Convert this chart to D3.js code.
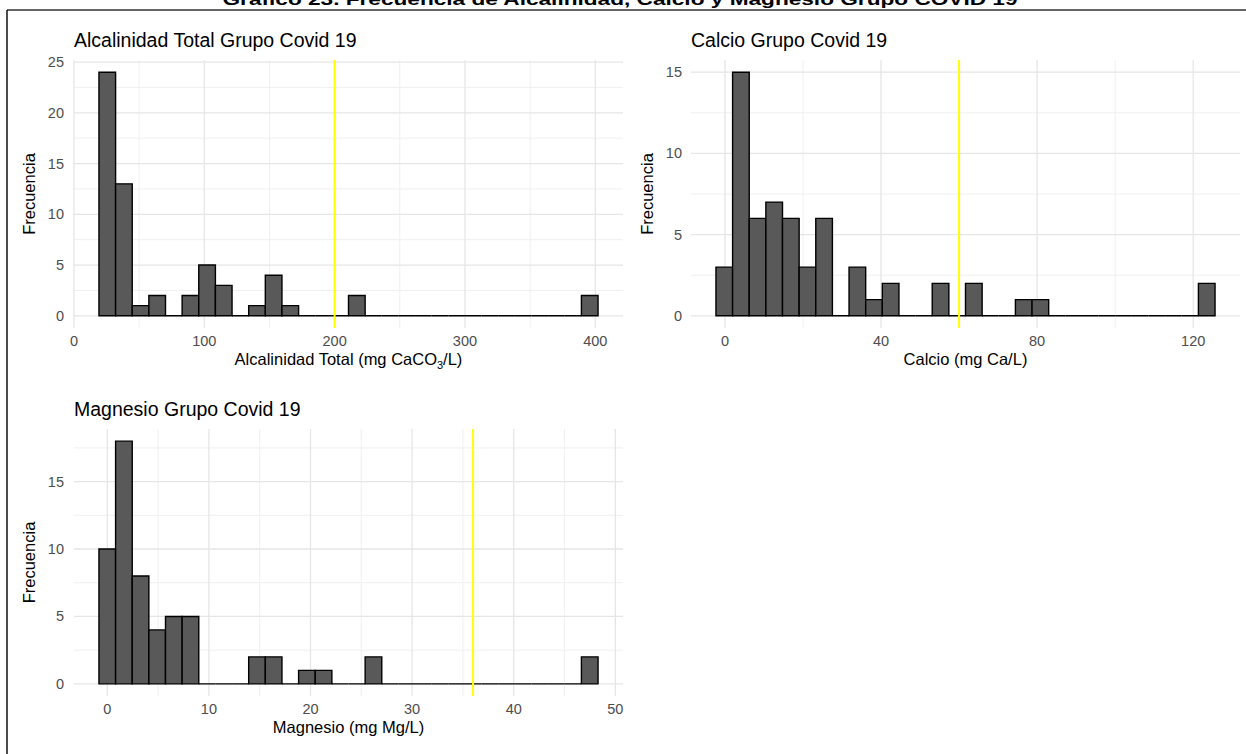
<!DOCTYPE html>
<html>
<head>
<meta charset="utf-8">
<script src="https://cdn.jsdelivr.net/npm/d3@7"></script>
<style>
  html, body { margin: 0; padding: 0; background: #fff; }
  svg { display: block; }
  text { font-family: "Liberation Sans", Arial, sans-serif; }
</style>
</head>
<body>
<svg id="chart" width="1246" height="754"></svg>
<script>
// ---------------- DATA ----------------
const mainTitle = "Gráfico 23. Frecuencia de Alcalinidad, Calcio y Magnesio Grupo COVID 19";

// Alcalinidad Total: 30 bins between these edges (mg CaCO3/L)
const alcRange = [19.2, 402.1];
const alcCounts = [24, 13, 1, 2, 0, 2, 5, 3, 0, 1, 4, 1, 0, 0, 0, 2, 0, 0, 0, 0, 0, 0, 0, 0, 0, 0, 0, 0, 0, 2];
const alcThreshold = 200;
const alcXTicks = [0, 100, 200, 300, 400];
const alcXMinor = [50, 150, 250, 350];
const alcYTicks = [0, 5, 10, 15, 20, 25];
const alcYMinor = [2.5, 7.5, 12.5, 17.5, 22.5];

// Calcio: 30 bins (mg Ca/L)
const caRange = [-2.3, 125.6];
const caCounts = [3, 15, 6, 7, 6, 3, 6, 0, 3, 1, 2, 0, 0, 2, 0, 2, 0, 0, 1, 1, 0, 0, 0, 0, 0, 0, 0, 0, 0, 2];
const caThreshold = 60;
const caXTicks = [0, 40, 80, 120];
const caXMinor = [20, 60, 100];
const caYTicks = [0, 5, 10, 15];
const caYMinor = [2.5, 7.5, 12.5];

// Magnesio: 30 bins (mg Mg/L)
const mgRange = [-0.82, 48.3];
const mgCounts = [10, 18, 8, 4, 5, 5, 0, 0, 0, 2, 2, 0, 1, 1, 0, 0, 2, 0, 0, 0, 0, 0, 0, 0, 0, 0, 0, 0, 0, 2];
const mgThreshold = 36;
const mgXTicks = [0, 10, 20, 30, 40, 50];
const mgXMinor = [5, 15, 25, 35, 45];
const mgYTicks = [0, 5, 10, 15];
const mgYMinor = [2.5, 7.5, 12.5, 17.5];

const panelTitles = ["Alcalinidad Total Grupo Covid 19", "Calcio Grupo Covid 19", "Magnesio Grupo Covid 19"];
const yTitle = "Frecuencia";

// ---------------- LAYOUT ----------------
const svg = d3.select("#chart");

// frame
svg.append("line").attr("x1", 7).attr("x2", 1246).attr("y1", 10).attr("y2", 10)
  .attr("stroke", "#333").attr("stroke-width", 1.5);
svg.append("line").attr("x1", 7).attr("x2", 7).attr("y1", 10).attr("y2", 754)
  .attr("stroke", "#111").attr("stroke-width", 1.5);

// main title (clipped by the top edge, as in the reference)
svg.append("text").attr("x", 620).attr("y", 5).attr("text-anchor", "middle")
  .attr("font-weight", "bold").attr("font-size", 17)
  .attr("textLength", 795).attr("lengthAdjust", "spacingAndGlyphs")
  .attr("fill", "#000").text(mainTitle);

function histogram(cfg) {
  const { left, right, top, bottom, range, counts, threshold, xTicks, xMinor, yTicks, yMinor, title, xTitle, yLabelGap, yTitleGap } = cfg;
  const n = counts.length;
  const bw = (range[1] - range[0]) / n;
  const span = range[1] - range[0];
  const x = d3.scaleLinear().domain([range[0] - 0.05 * span, range[1] + 0.05 * span]).range([left, right]);
  const maxC = d3.max(counts);
  const y = d3.scaleLinear().domain([-0.05 * maxC, 1.05 * maxC]).range([bottom, top]);
  const g = svg.append("g");

  // minor grid
  g.selectAll(".ymin").data(yMinor).join("line")
    .attr("x1", left).attr("x2", right).attr("y1", d => y(d)).attr("y2", d => y(d))
    .attr("stroke", "#f0f0f0").attr("stroke-width", 1);
  g.selectAll(".xmin").data(xMinor).join("line")
    .attr("y1", top).attr("y2", bottom).attr("x1", d => x(d)).attr("x2", d => x(d))
    .attr("stroke", "#f0f0f0").attr("stroke-width", 1);
  // major grid
  g.selectAll(".ymaj").data(yTicks).join("line")
    .attr("x1", left).attr("x2", right).attr("y1", d => y(d)).attr("y2", d => y(d))
    .attr("stroke", "#e6e6e6").attr("stroke-width", 1.3);
  g.selectAll(".xmaj").data(xTicks).join("line")
    .attr("y1", top).attr("y2", bottom).attr("x1", d => x(d)).attr("x2", d => x(d))
    .attr("stroke", "#e6e6e6").attr("stroke-width", 1.3);

  // bars (paths so that empty bins still show their outline on the baseline)
  g.selectAll(".bar").data(counts).join("path")
    .attr("d", (c, i) => {
      const x0 = x(range[0] + i * bw), x1 = x(range[0] + (i + 1) * bw);
      const y0 = y(0), y1 = y(c);
      return `M${x0},${y0}V${y1}H${x1}V${y0}Z`;
    })
    .attr("fill", "#595959").attr("stroke", "#000").attr("stroke-width", 1.4);

  // threshold line
  g.append("line").attr("x1", x(threshold)).attr("x2", x(threshold))
    .attr("y1", top).attr("y2", bottom)
    .attr("stroke", "#ffff00").attr("stroke-width", 2);

  // tick labels
  g.selectAll(".xl").data(xTicks).join("text")
    .attr("x", d => x(d)).attr("y", bottom + 18).attr("text-anchor", "middle")
    .attr("font-size", 14.5).attr("fill", "#4d4d4d").text(d => d);
  g.selectAll(".yl").data(yTicks).join("text")
    .attr("x", left - yLabelGap).attr("y", d => y(d) + 5).attr("text-anchor", "end")
    .attr("font-size", 14.5).attr("fill", "#4d4d4d").text(d => d);

  // titles
  g.append("text").attr("x", left).attr("y", top - 13).attr("font-size", 19.5).attr("fill", "#000").text(title);
  const xt = g.append("text").attr("x", (left + right) / 2).attr("y", bottom + 37)
    .attr("text-anchor", "middle").attr("font-size", 16.5).attr("fill", "#000");
  xTitle(xt);
  g.append("text").attr("transform", `translate(${left - yTitleGap},${(top + bottom) / 2}) rotate(-90)`)
    .attr("text-anchor", "middle").attr("font-size", 16.5).attr("fill", "#000").text(yTitle);
}

histogram({
  left: 74, right: 623, top: 60, bottom: 328, range: alcRange, counts: alcCounts, threshold: alcThreshold,
  xTicks: alcXTicks, xMinor: alcXMinor, yTicks: alcYTicks, yMinor: alcYMinor, title: panelTitles[0], yLabelGap: 10, yTitleGap: 39,
  xTitle: t => {
    t.append("tspan").text("Alcalinidad Total (mg CaCO");
    t.append("tspan").attr("font-size", 11).attr("dy", 4).text("3");
    t.append("tspan").attr("dy", -4).text("/L)");
  }
});
histogram({
  left: 691, right: 1240, top: 60, bottom: 328, range: caRange, counts: caCounts, threshold: caThreshold,
  xTicks: caXTicks, xMinor: caXMinor, yTicks: caYTicks, yMinor: caYMinor, title: panelTitles[1], yLabelGap: 9, yTitleGap: 38,
  xTitle: t => t.text("Calcio (mg Ca/L)")
});
histogram({
  left: 74, right: 623, top: 429, bottom: 696, range: mgRange, counts: mgCounts, threshold: mgThreshold,
  xTicks: mgXTicks, xMinor: mgXMinor, yTicks: mgYTicks, yMinor: mgYMinor, title: panelTitles[2], yLabelGap: 10, yTitleGap: 39,
  xTitle: t => t.text("Magnesio (mg Mg/L)")
});
</script>
</body>
</html>
